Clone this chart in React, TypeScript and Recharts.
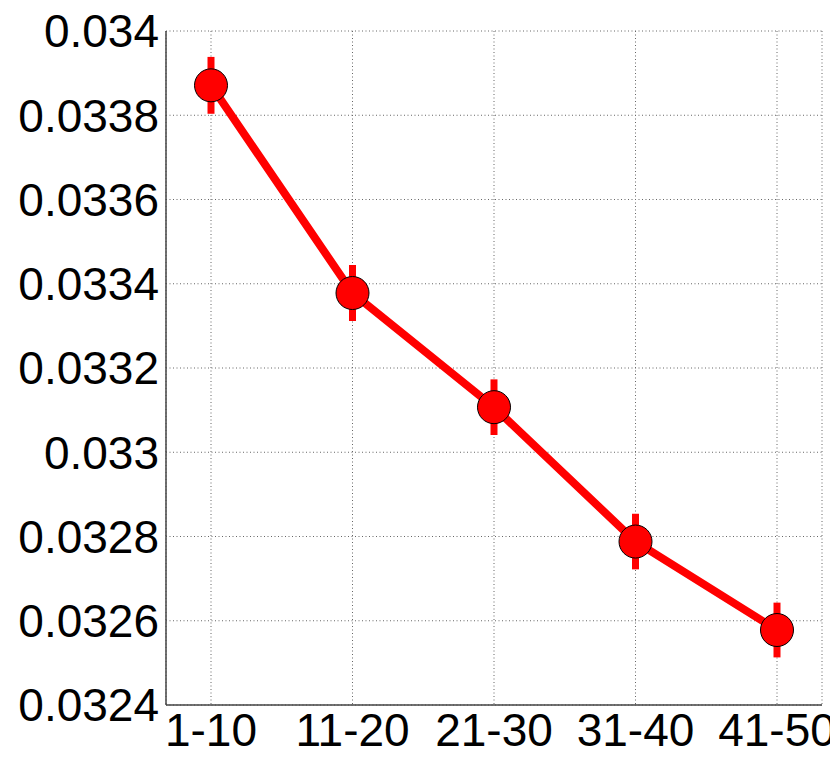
import { CartesianGrid, ErrorBar, Line, LineChart, XAxis, YAxis } from "recharts"

const groups = ["1-10", "11-20", "21-30", "31-40", "41-50"]
const means = [0.033871, 0.033378, 0.033107, 0.032788, 0.032578]
const errors = [0.0000675, 0.0000665, 0.000066, 0.000066, 0.000065]
const yTicks = [0.0324, 0.0326, 0.0328, 0.033, 0.0332, 0.0334, 0.0336, 0.0338, 0.034]
const yLabels = ["0.0324", "0.0326", "0.0328", "0.033", "0.0332", "0.0334", "0.0336", "0.0338", "0.034"]

const data = groups.map((group, i) => ({ group, value: means[i], err: errors[i] }))

const tickFont = { fontFamily: "Liberation Sans, Arial, sans-serif", fontSize: 46, fill: "#000" }
const frame = "#444"

export default function App() {
  return (
    <div style={{ position: "absolute", left: 0, top: 0, background: "#fff" }}>
      <LineChart width={830} height={767} data={data} margin={{ top: 31, right: 8, left: 0, bottom: 0 }}>
        <CartesianGrid stroke="#666" strokeDasharray="1 2.5" />
        <XAxis
          dataKey="group"
          type="category"
          padding={{ left: 45, right: 45 }}
          height={62}
          tick={tickFont}
          tickLine={false}
          tickSize={0}
          tickMargin={8}
          axisLine={{ stroke: frame, strokeWidth: 1.5 }}
          interval={0}
        />
        <XAxis xAxisId="top" orientation="top" dataKey="group" height={0} tick={false} tickLine={false} axisLine={{ stroke: frame, strokeWidth: 1.5 }} />
        <YAxis
          type="number"
          domain={[0.0324, 0.034]}
          ticks={yTicks}
          width={166}
          tick={tickFont}
          tickLine={false}
          tickSize={0}
          tickMargin={7}
          axisLine={{ stroke: frame, strokeWidth: 1.5 }}
          tickFormatter={(_v: number, i: number) => yLabels[i]}
          interval={0}
        />
        <YAxis yAxisId="right" orientation="right" width={0} domain={[0.0324, 0.034]} tick={false} tickLine={false} axisLine={{ stroke: frame, strokeWidth: 1.5 }} />
        <Line
          dataKey="value"
          stroke="#ff0000"
          strokeWidth={8}
          dot={{ r: 16.5, fill: "#ff0000", stroke: "#000", strokeWidth: 1 }}
          isAnimationActive={false}
        >
          <ErrorBar dataKey="err" width={0} stroke="#ff0000" strokeWidth={7} direction="y" />
        </Line>
      </LineChart>
    </div>
  )
}
